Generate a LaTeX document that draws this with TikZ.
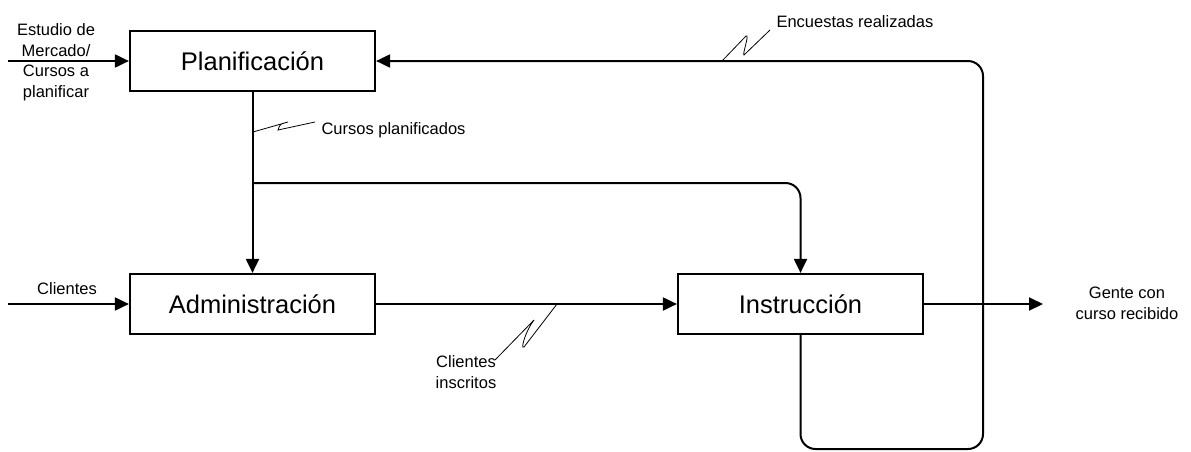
\documentclass[tikz,border=0pt]{standalone}
\usepackage{fontspec}
\setmainfont{Liberation Sans}
\usetikzlibrary{arrows.meta}

\begin{document}
\begin{tikzpicture}[x=1pt, y=-1pt,
  proc/.style={draw, line width=2.2pt, minimum width=245pt, minimum height=60pt, font={\fontsize{25.5}{30}\selectfont}},
  flow/.style={line width=2pt, -{Triangle[length=14pt,width=13pt]}},
  lbl/.style={font={\fontsize{16.5}{20.5}\selectfont}, align=center},
  zig/.style={line width=0.8pt}]
\useasboundingbox (0,0) rectangle (1191,451);

% processes
\node[proc] (plan) at (252.5,61) {Planificación};
\node[proc] (admin) at (252.5,304) {Administración};
\node[proc] (instr) at (800.5,304) {Instrucción};

% entries and exit
\coordinate (inplan) at (8,61);
\coordinate (incli) at (8,304);
\coordinate (out) at (1043,304);
\draw[flow] (inplan) -- (plan.west);
\draw[flow] (incli) -- (admin.west);
\draw[flow] (instr.east) -- (out);
\node[lbl] (lestudio) at (56,62) {Estudio de\\Mercado/\\Cursos a\\planificar};
\node[lbl] (lcli) at (67,289) {Clientes};
\node[lbl] (lgente) at (1127,303.5) {Gente con\\curso recibido};

% planned courses go to both
\coordinate (split) at (252.5,183);
\draw[flow] (plan.south) -- (admin.north);
\draw[flow, rounded corners=15pt] (split) -- (split -| instr.north) -- (instr.north);
\draw[flow] (admin.east) -- (instr.west);

% survey loop back
\draw[flow, rounded corners=15pt] (instr.south) -- (800.5,449) -- (983,449) -- (983,61) -- (plan.east);

% flow labels with zigzag leaders
\draw[zig] (253,132) -- (288,122) .. controls (280,124) .. (278,130) -- (315,122);
\node[lbl, anchor=west] (lcursos) at (318,130) {Cursos planificados};
\draw[zig] (557,304) -- (524,347) .. controls (520,350) and (526,330) .. (534,320) -- (495,360);
\node[lbl] (linscr) at (466,372) {Clientes\\inscritos};
\draw[zig] (722,61) -- (746,36) .. controls (750,33) and (742,55) .. (744,55) -- (770,30);
\node[lbl, anchor=west] (lencu) at (773,22) {Encuestas realizadas};
\end{tikzpicture}
\end{document}
